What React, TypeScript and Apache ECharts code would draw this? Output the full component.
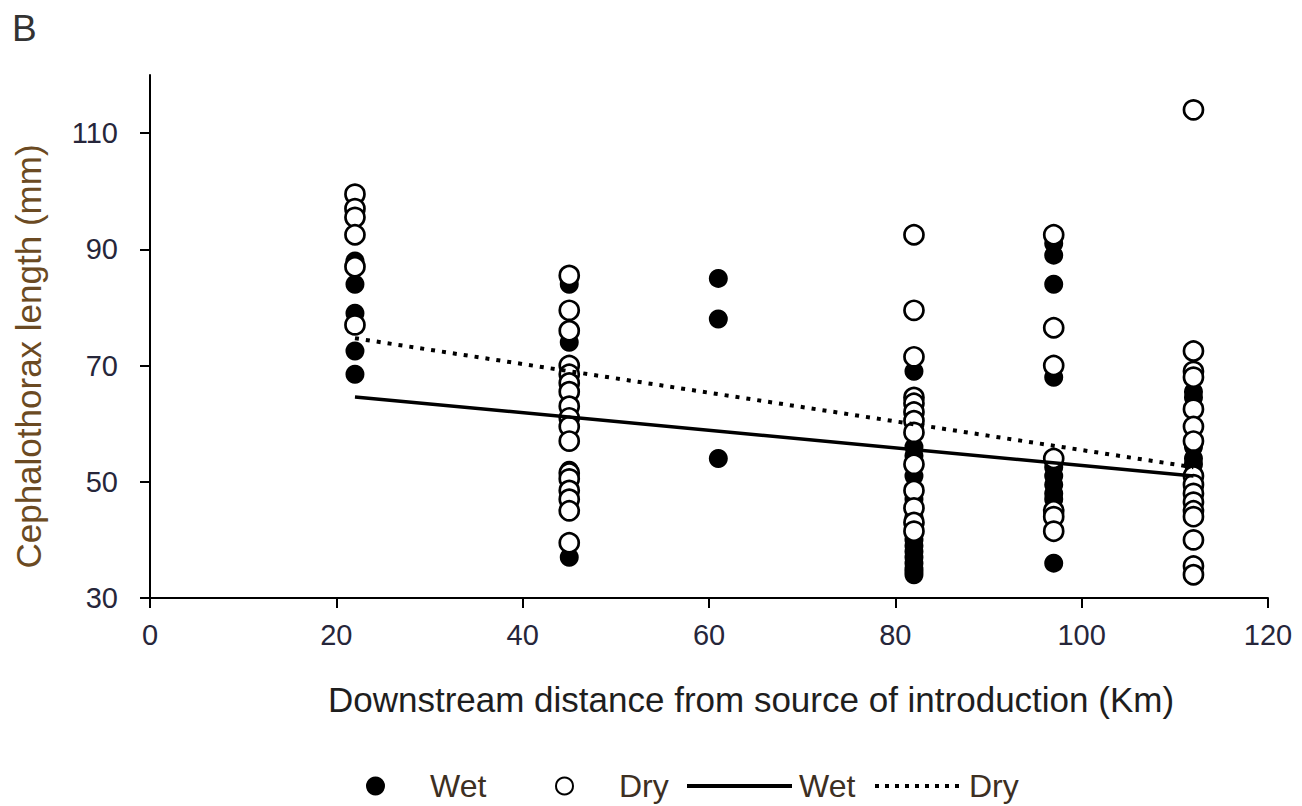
import React, { useEffect, useRef } from "react";
import * as echarts from "echarts";

// ---- Data ----
const xTicks = [0, 20, 40, 60, 80, 100, 120];
const yTicks = [30, 50, 70, 90, 110];
const distances = [22, 45, 61, 82, 97, 112];

const wet22 = [88, 84, 79, 72.5, 68.5];
const wet45 = [84, 74, 61, 52, 37];
const wet61 = [85, 78, 54];
const wet82 = [69, 64, 60, 56, 54.5, 51, 47, 44, 40, 39, 38, 37, 36, 35, 34.5, 34];
const wet97 = [91, 89, 84, 68, 52.5, 51, 49.5, 48, 47, 36];
const wet112 = [65.5, 64.5, 56, 54, 53];

const dry22 = [99.5, 97, 95.5, 92.5, 87, 77];
const dry45 = [85.5, 79.5, 76, 70, 68.5, 67, 65.5, 63, 61, 59.5, 57, 51.5, 50.5, 48.5, 47, 45, 39.5];
const dry61: number[] = [];
const dry82 = [92.5, 79.5, 71.5, 64.5, 63.5, 62, 60.5, 58.5, 53, 48.5, 45.5, 43, 41.5];
const dry97 = [92.5, 76.5, 70, 54, 45, 44, 41.5];
const dry112 = [114, 72.5, 69, 68, 62.5, 59.5, 57, 51, 49.5, 48, 46.5, 45, 44, 40, 35.5, 34];

const wetColumns = [wet22, wet45, wet61, wet82, wet97, wet112];
const dryColumns = [dry22, dry45, dry61, dry82, dry97, dry112];

const trendX = [22, 112];
const wetTrendY = [64.6, 51.0];
const dryTrendY = [74.7, 52.5];

const toPairs = (cols: number[][]) =>
  cols.flatMap((vals, i) => vals.map((v) => [distances[i], v]));

const FONT = "'Liberation Sans', Arial, sans-serif";

export default function App() {
  const ref = useRef<HTMLDivElement>(null);
  useEffect(() => {
    if (!ref.current) return;
    const chart = echarts.init(ref.current, undefined, { renderer: "svg" });
    const legendText = { fontSize: 32, color: "#3d2f22", fontFamily: FONT };
    const legendBase = { padding: 0, selectedMode: false, top: 770, height: 38 };
    chart.setOption({
      animation: false,
      backgroundColor: "#ffffff",
      textStyle: { fontFamily: FONT },
      grid: { left: 150, right: 34, top: 75, bottom: 208, containLabel: false },
      graphic: [
        {
          type: "text",
          left: 12,
          top: 10,
          style: { text: "B", fontSize: 37, fill: "#333333", fontFamily: FONT },
        },
      ],
      xAxis: {
        type: "value",
        min: 0,
        max: 120,
        interval: 20,
        name: "Downstream distance from source of introduction (Km)",
        nameLocation: "middle",
        nameGap: 84,
        nameTextStyle: { fontSize: 35, color: "#1e1e1e", fontFamily: FONT, padding: [0, 0, 0, 84] },
        axisLine: { show: true, onZero: false, lineStyle: { color: "#000", width: 2 } },
        axisTick: { show: true, inside: false, length: 10, lineStyle: { color: "#000", width: 2 } },
        axisLabel: { fontSize: 29, color: "#26263a", margin: 22, fontFamily: FONT },
        splitLine: { show: false },
      },
      yAxis: {
        type: "value",
        min: 30,
        max: 120,
        name: "Cephalothorax length (mm)",
        nameLocation: "middle",
        nameGap: 104,
        nameTextStyle: { fontSize: 35, color: "#6b4a22", fontFamily: FONT, padding: [0, 40, 0, 0] },
        axisLine: { show: true, onZero: false, lineStyle: { color: "#000", width: 2 } },
        axisTick: { show: true, inside: false, length: 10, lineStyle: { color: "#000", width: 2 }, customValues: yTicks },
        axisLabel: { fontSize: 29, color: "#26263a", margin: 32, fontFamily: FONT, customValues: yTicks },
        splitLine: { show: false },
      },
      legend: [
        {
          ...legendBase,
          data: [{ name: "Wet", icon: "circle" }],
          left: 366,
          itemWidth: 19,
          itemHeight: 19,
          textStyle: { ...legendText, padding: [0, 0, 0, 40] },
        },
        {
          ...legendBase,
          data: [{ name: "Dry", icon: "circle" }],
          left: 555,
          itemWidth: 17,
          itemHeight: 17,
          textStyle: { ...legendText, padding: [0, 0, 0, 41] },
        },
        {
          ...legendBase,
          data: ["Wet trend"],
          left: 685,
          itemWidth: 105,
          itemHeight: 19,
          formatter: () => "Wet",
          itemStyle: { opacity: 0 },
          lineStyle: { width: 4, color: "#000", type: "solid" },
          textStyle: { ...legendText, padding: [0, 0, 0, 2] },
        },
        {
          ...legendBase,
          data: ["Dry trend"],
          left: 873,
          itemWidth: 87,
          itemHeight: 19,
          formatter: () => "Dry",
          itemStyle: { opacity: 0 },
          lineStyle: { width: 4, color: "#000", type: [4, 6] },
          textStyle: { ...legendText, padding: [0, 0, 0, 2] },
        },
      ],
      series: [
        {
          name: "Wet",
          type: "scatter",
          symbol: "circle",
          symbolSize: 19,
          data: toPairs(wetColumns),
          itemStyle: { color: "#000000", opacity: 1 },
          z: 2,
        },
        {
          name: "Dry",
          type: "scatter",
          symbol: "circle",
          symbolSize: 19,
          data: toPairs(dryColumns),
          itemStyle: { color: "#ffffff", borderColor: "#000000", borderWidth: 2.7, opacity: 1 },
          z: 3,
        },
        {
          name: "Wet trend",
          type: "line",
          symbol: "none",
          showSymbol: false,
          data: trendX.map((x, i) => [x, wetTrendY[i]]),
          lineStyle: { color: "#000000", width: 3.5, type: "solid" },
          itemStyle: { color: "#000000" },
          z: 4,
        },
        {
          name: "Dry trend",
          type: "line",
          symbol: "none",
          showSymbol: false,
          data: trendX.map((x, i) => [x, dryTrendY[i]]),
          lineStyle: { color: "#000000", width: 4, type: [4, 7] },
          itemStyle: { color: "#000000" },
          z: 4,
        },
      ],
    });
    return () => chart.dispose();
  }, []);
  return (
    <div
      ref={ref}
      style={{ position: "absolute", left: 0, top: 0, width: 1302, height: 806, background: "#fff" }}
    />
  );
}
